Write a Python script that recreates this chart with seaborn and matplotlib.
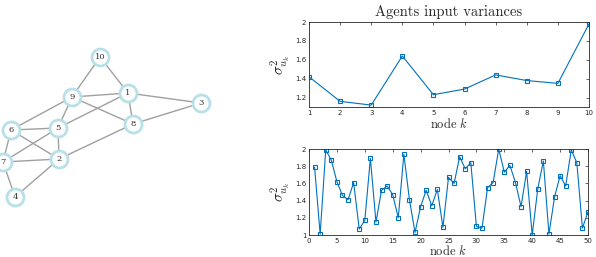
import numpy as np
import pandas as pd
import matplotlib
matplotlib.use("Agg")
import matplotlib.pyplot as plt
import seaborn as sns

# ---- data ----
nodes_small = [1, 2, 3, 4, 5, 6, 7, 8, 9, 10]
var_small = [1.42, 1.16, 1.12, 1.64, 1.23, 1.29, 1.44, 1.38, 1.35, 1.98]

nodes_large = list(range(1, 51))
var_large = [1.79, 1.01, 1.99, 1.87, 1.62, 1.46, 1.41, 1.61, 1.07, 1.17,
             1.89, 1.15, 1.52, 1.57, 1.47, 1.20, 1.94, 1.41, 1.03, 1.33,
             1.52, 1.34, 1.53, 1.09, 1.67, 1.60, 1.91, 1.77, 1.84, 1.10,
             1.08, 1.55, 1.61, 2.00, 1.73, 1.81, 1.61, 1.33, 1.74, 1.00,
             1.54, 1.86, 1.01, 1.44, 1.69, 1.57, 1.99, 1.84, 1.08, 1.27]

graph_nodes = ["1", "2", "3", "4", "5", "6", "7", "8", "9", "10"]
graph_edges = [("10", "9"), ("10", "1"), ("9", "1"), ("9", "8"), ("9", "6"),
               ("9", "5"), ("1", "3"), ("1", "8"), ("1", "5"), ("8", "3"),
               ("8", "2"), ("6", "5"), ("6", "2"), ("6", "7"), ("5", "7"),
               ("5", "2"), ("7", "2"), ("7", "4"), ("4", "2")]

title_text = "Agents input variances"
xlabel_text = r"node $k$"
ylabel_text = r"$\sigma^2_{u_k}$"

# ---- layout (positions in pixel space of the left panel) ----
layout = {"10": (100, 57), "9": (72, 97), "1": (128, 93), "3": (201, 103),
          "8": (133, 124), "6": (11, 130), "5": (58, 128), "2": (59, 159),
          "7": (3, 162), "4": (15, 197)}

sns.set_theme(style="white")
plt.rcParams["mathtext.fontset"] = "cm"
plt.rcParams["font.family"] = ["DejaVu Sans"]

blue = "#0072BD"
fig = plt.figure(figsize=(5.96, 2.57), dpi=100)

# ---- graph panel ----
axg = fig.add_axes([0, 0, 230 / 596, 1])
axg.set_xlim(0, 230)
axg.set_ylim(257, 0)
axg.axis("off")
for a, b in graph_edges:
    (x1, y1), (x2, y2) = layout[a], layout[b]
    axg.plot([x1, x2], [y1, y2], color="#a0a0a0", lw=1.0, zorder=1)
for n in graph_nodes:
    x, y = layout[n]
    axg.scatter([x], [y], s=150, facecolor="white", edgecolor="#b8e0e8",
                linewidth=2.0, zorder=2)
    axg.text(x, y, n, ha="center", va="center", fontsize=6,
             family="DejaVu Serif", color="#333333", zorder=3)

def style_ax(ax):
    for s in ax.spines.values():
        s.set_color("#262626")
        s.set_linewidth(0.6)
    ax.tick_params(direction="in", length=2.5, width=0.5, labelsize=5,
                   colors="#262626", top=True, right=True, pad=2)
    ax.grid(False)

# ---- top panel ----
ax1 = fig.add_axes([309 / 596, 1 - 107 / 257, 280 / 596, 85 / 257])
df1 = pd.DataFrame({"node": nodes_small, "var": var_small})
sns.lineplot(data=df1, x="node", y="var", ax=ax1, color=blue, lw=0.8,
             marker="s", markersize=3.5, markerfacecolor="none",
             markeredgecolor=blue, markeredgewidth=0.8)
ax1.set_xlim(1, 10)
ax1.set_ylim(1.1, 2)
ax1.set_xticks(range(1, 11))
ax1.set_yticks([1.2, 1.4, 1.6, 1.8, 2])
ax1.set_yticklabels(["1.2", "1.4", "1.6", "1.8", "2"])
style_ax(ax1)
ax1.set_title(title_text, family="cmr10", fontsize=10.5, pad=4)
ax1.set_xlabel(xlabel_text, fontsize=9, labelpad=1, family="cmr10")
ax1.set_ylabel(ylabel_text, fontsize=11, labelpad=2)

# ---- bottom panel ----
ax2 = fig.add_axes([309 / 596, 1 - 235 / 257, 279 / 596, 86 / 257])
df2 = pd.DataFrame({"node": nodes_large, "var": var_large})
sns.lineplot(data=df2, x="node", y="var", ax=ax2, color=blue, lw=0.8,
             marker="s", markersize=3.5, markerfacecolor="none",
             markeredgecolor=blue, markeredgewidth=0.8)
ax2.set_xlim(0, 50)
ax2.set_ylim(1, 2)
ax2.set_xticks(range(0, 51, 5))
ax2.set_yticks([1, 1.2, 1.4, 1.6, 1.8, 2])
ax2.set_yticklabels(["1", "1.2", "1.4", "1.6", "1.8", "2"])
style_ax(ax2)
ax2.set_xlabel(xlabel_text, fontsize=9, labelpad=0, family="cmr10")
ax2.set_ylabel(ylabel_text, fontsize=11, labelpad=2)

fig.savefig("out.png", dpi=100, facecolor="white")
